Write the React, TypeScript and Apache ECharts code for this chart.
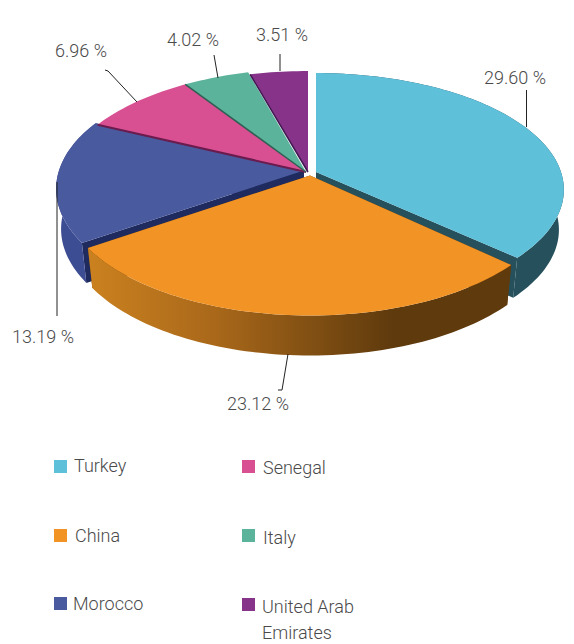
import React, { useEffect, useRef } from "react";
import * as echarts from "echarts";

// Data (clockwise from 12 o'clock)
const countries = ["Turkey", "China", "Morocco", "Senegal", "Italy", "United Arab\nEmirates"];
const shares = [29.6, 23.12, 13.19, 6.96, 4.02, 3.51];

// Styles
const topColors = ["#5fc0da", "#f29325", "#4a5a9f", "#d84f92", "#5cb39b", "#873389"];
const sideColors: any[] = [
  "#25505c",
  {
    type: "linear", x: 0, y: 0, x2: 1, y2: 0,
    colorStops: [
      { offset: 0, color: "#cb811f" },
      { offset: 0.3, color: "#a9681a" },
      { offset: 0.55, color: "#7d4d12" },
      { offset: 0.72, color: "#5f3a0d" },
      { offset: 1, color: "#5f3a0d" },
    ],
  },
  "#3d4d93",
  "none", "none", "none",
];
const radialColors = ["#25505c", "#5f3a0d", "#1f2b5e", "none", "none", "none"];
const edgeColors = ["none", "none", "none", "#6a1c4e", "#2f5f52", "#3f1a52"];
const edgeWidths = [0, 0, 0, 2, 1.5, 1.5];
const TEXT = "#4a4a4a";
const FONT = "Roboto";

// Layout
const vertexX = [316, 310, 304, 306, 306, 308];
const vertexY = [172, 175.5, 170.5, 172, 172, 172];
const radiusYScale = [0.96, 1, 1, 1, 1, 0.98];
const drawOrder = [2, 3, 4, 5, 0, 1];
const labelX = [515, 258, 43, 81, 193, 282];
const labelY = [77, 403, 336, 50, 39, 34];
const leaderLines = [
  [[526.5, 90], [526.5, 127]],
  [[288, 354], [282, 390], [278, 390]],
  [[57, 182], [57, 316]],
  [[105, 70], [108, 71], [137, 102]],
  [[214, 55], [218, 78]],
  [[280, 54], [280, 71]],
];
const legendX = [54, 54, 54, 242, 242, 242];
const legendSwatchY = [460, 529, 597, 460, 529, 598];
const legendTextX = [74, 75, 73, 263, 263, 262];
const legendTextY = [465, 535, 603, 467, 537, 606];

const RX = 245;
const RY = 118.7;
const PERSPECTIVE = 0.152;
const DEPTH = 40;
const BOTTOM_SCALE = 0.98;

const total = shares.reduce((a, b) => a + b, 0);
const startShares = shares.map((_, i) => shares.slice(0, i).reduce((a, b) => a + b, 0));

function project(theta: number, i: number) {
  const s = 1 / (1 - PERSPECTIVE * Math.sin(theta));
  return [
    vertexX[i] + RX * Math.cos(theta) * s,
    vertexY[i] + RY * radiusYScale[i] * Math.sin(theta) * s,
  ];
}
function lower(p: number[], i: number) {
  return [vertexX[i] + (p[0] - vertexX[i]) * BOTTOM_SCALE, p[1] + DEPTH];
}

const renderItem = (params: any, api: any) => {
  const i = drawOrder[params.dataIndex];
  const value = api.value(0);
  const t0 = -Math.PI / 2 + (api.value(1) / total) * 2 * Math.PI;
  const t1 = t0 + (value / total) * 2 * Math.PI;
  const steps = Math.max(8, Math.ceil((t1 - t0) / (Math.PI / 120)));
  const arc: number[][] = [];
  for (let k = 0; k <= steps; k++) arc.push(project(t0 + ((t1 - t0) * k) / steps, i));
  const v = [vertexX[i], vertexY[i]];
  const children: any[] = [];
  const hasSide = sideColors[i] !== "none";
  if (hasSide) {
    [arc[0], arc[arc.length - 1]].forEach((p) => {
      children.push({
        type: "polygon",
        shape: { points: [v, p, lower(p, i), lower(v, i)] },
        style: { fill: radialColors[i] },
      });
    });
    children.push({
      type: "polygon",
      shape: { points: [...arc, ...arc.map((p) => lower(p, i)).reverse()] },
      style: { fill: sideColors[i] },
    });
  }
  children.push({
    type: "polygon",
    shape: { points: [v, ...arc] },
    style: { fill: topColors[i] },
  });
  if (edgeWidths[i] > 0) {
    children.push({
      type: "polyline",
      shape: { points: [v, arc[0]] },
      style: { fill: "none", stroke: edgeColors[i], lineWidth: edgeWidths[i] },
    });
  }
  children.push({
    type: "polyline",
    shape: { points: leaderLines[i] },
    style: { fill: "none", stroke: "#222222", lineWidth: 1 },
  });
  children.push({
    type: "text",
    style: {
      text: value.toFixed(2) + " %",
      x: labelX[i],
      y: labelY[i],
      fill: TEXT,
      fontFamily: FONT,
      fontWeight: 300,
      fontSize: 18,
      align: "center",
      verticalAlign: "middle",
    },
  });
  return { type: "group", children };
};

export default function App() {
  const ref = useRef<HTMLDivElement>(null);
  useEffect(() => {
    document.body.style.margin = "0";
    const chart = echarts.init(ref.current!, null, { renderer: "svg" });
    const legend: any[] = [];
    countries.forEach((name, i) => {
      legend.push({
        type: "rect",
        shape: { x: legendX[i], y: legendSwatchY[i], width: 13, height: 13 },
        style: { fill: topColors[i] },
      });
      legend.push({
        type: "text",
        style: {
          text: name,
          x: legendTextX[i],
          y: legendTextY[i] - 13,
          fill: TEXT,
          fontFamily: FONT,
          fontWeight: 300,
          fontSize: 18,
          lineHeight: 26,
        },
      });
    });
    chart.setOption({
      animation: false,
      backgroundColor: "#ffffff",
      graphic: { elements: legend },
      series: [
        {
          type: "custom",
          coordinateSystem: "none",
          renderItem,
          silent: true,
          dimensions: ["share", "start"],
          encode: { value: [0, 1] },
          data: drawOrder.map((i) => ({ name: countries[i], value: [shares[i], startShares[i]] })),
        },
      ],
    });
    return () => chart.dispose();
  }, []);
  return <div ref={ref} style={{ width: 574, height: 644 }} />;
}
